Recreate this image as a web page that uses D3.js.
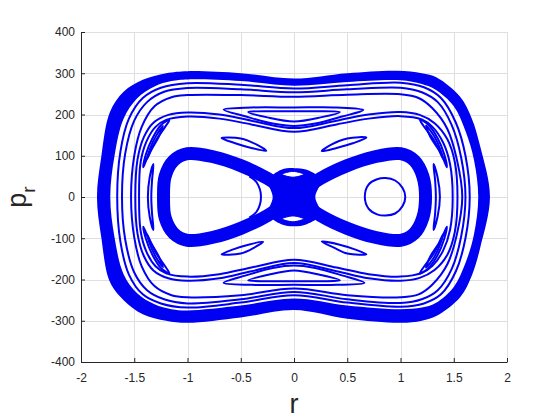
<!DOCTYPE html>
<meta charset="utf-8">
<head>
  <title>Poincare section (r, p_r)</title>
</head>

<style>
body {
  margin: 0;
  background: #fff;
  font-family: "Liberation Sans", Arial, sans-serif;
}
</style>

<body>
  <div id="content">
    <svg width="560" height="420"></svg>
  </div>

  <script src="https://cdnjs.cloudflare.com/ajax/libs/d3/7.8.5/d3.min.js"></script>

  <script>
// ticks
var xTicks = [-2, -1.5, -1, -0.5, 0, 0.5, 1, 1.5, 2];
var xTickLabels = ["-2", "-1.5", "-1", "-0.5", "0", "0.5", "1", "1.5", "2"];
var yTicks = [-400, -300, -200, -100, 0, 100, 200, 300, 400];
var yTickLabels = ["-400", "-300", "-200", "-100", "0", "100", "200", "300", "400"];

// outer chaotic band, outside and inside edge  [r, pr]
var bandOuter = [[-1.85,0],[-1.81,97],[-1.73,205],[-1.6,255],[-1.42,284],[-1.2,300],[-1.0,305],[-0.5,300],[0,287],[0.5,300],[0.97,306],[1.2,300],[1.34,290],[1.56,243],[1.67,190],[1.75,121],[1.84,0],
  [1.75,-121],[1.67,-190],[1.56,-243],[1.34,-288],[1.2,-300],[1.0,-305],[0.5,-295],[0,-274],[-0.5,-292],[-1.0,-305],[-1.2,-300],[-1.42,-284],[-1.6,-250],[-1.73,-205],[-1.81,-97]];
var bandInner = [[-1.725,0],[-1.685,100],[-1.6,190],[-1.47,240],[-1.31,268],[-1.15,281],[-1.0,285],[-0.5,281],[0,270],[0.5,279],[1.0,283],[1.2,274],[1.33,260],[1.5,220],[1.61,160],[1.69,90],[1.73,0],
  [1.69,-90],[1.61,-160],[1.5,-218],[1.33,-257],[1.2,-268],[1.0,-272],[0.5,-263],[0,-246],[-0.5,-263],[-1.0,-275],[-1.15,-272],[-1.31,-260],[-1.47,-234],[-1.6,-187],[-1.685,-98]];

// thin curves going round both wells
var loop1 = [[-1.66,0],[-1.63,110],[-1.55,190],[-1.42,240],[-1.25,265],[-1.0,276],[-0.5,272],[0,263],[0.5,271],[1.0,277],[1.22,266],[1.38,240],[1.52,180],[1.61,100],[1.65,0],
  [1.61,-100],[1.52,-180],[1.38,-236],[1.22,-258],[1.0,-266],[0.5,-256],[0,-238],[-0.5,-256],[-1.0,-268],[-1.25,-258],[-1.42,-236],[-1.55,-188],[-1.63,-108]];
var loop2 = [[-1.615,0],[-1.585,105],[-1.5,185],[-1.38,230],[-1.22,255],[-1.0,264],[-0.5,261],[0,254],[0.5,261],[1.0,265],[1.2,254],[1.35,230],[1.48,175],[1.57,95],[1.61,0],
  [1.57,-95],[1.48,-175],[1.35,-226],[1.2,-248],[1.0,-257],[0.5,-248],[0,-230],[-0.5,-248],[-1.0,-258],[-1.22,-248],[-1.38,-226],[-1.5,-183],[-1.585,-103]];
var loop3 = [[-1.53,0],[-1.5,100],[-1.43,170],[-1.31,220],[-1.15,242],[-1.0,247],[-0.5,247],[0,243],[0.5,248],[1.0,249],[1.17,240],[1.3,215],[1.44,165],[1.53,90],[1.58,0],
  [1.53,-90],[1.44,-163],[1.3,-212],[1.17,-236],[1.0,-243],[0.5,-238],[0,-222],[-0.5,-238],[-1.0,-243],[-1.15,-238],[-1.31,-216],[-1.43,-168],[-1.5,-98]];
var loop4 = [[-1.49,0],[-1.47,90],[-1.41,145],[-1.32,180],[-1.18,199],[-1.0,205],[-0.7,200],[-0.4,185],[0,167],[0.4,185],[0.7,200],[1.0,206],[1.18,199],[1.32,179],[1.44,140],[1.51,85],[1.535,0],
  [1.51,-85],[1.44,-140],[1.32,-177],[1.18,-196],[1.0,-203],[0.7,-197],[0.4,-180],[0,-160],[-0.4,-180],[-0.7,-197],[-1.0,-203],[-1.18,-197],[-1.32,-178],[-1.41,-143],[-1.47,-88]];
var loop5 = [[-1.455,0],[-1.44,85],[-1.385,135],[-1.3,170],[-1.2,187],[-1.0,195],[-0.7,190],[-0.4,176],[0,158],[0.4,176],[0.7,190],[1.0,196],[1.2,188],[1.3,170],[1.4,132],[1.465,80],[1.49,0],
  [1.465,-80],[1.4,-130],[1.3,-167],[1.2,-184],[1.0,-193],[0.7,-187],[0.4,-171],[0,-152],[-0.4,-171],[-0.7,-187],[-1.0,-193],[-1.2,-185],[-1.3,-168],[-1.385,-133],[-1.44,-83]];

// separatrix band (figure eight) and its crossing
var eightBand = [[0,0],[0.25,-45],[0.5,-76],[0.75,-97],[1.0,-105],[1.13,-88],[1.21,-50],[1.235,0],[1.21,50],[1.13,88],[1.0,105],[0.75,97],[0.5,76],[0.25,45],
  [0,0],[-0.25,-45],[-0.5,-76],[-0.75,-97],[-1.0,-105],[-1.13,-88],[-1.21,-50],[-1.225,0],[-1.21,50],[-1.13,88],[-1.0,105],[-0.75,97],[-0.5,76],[-0.25,45]];
var crossing = [[-0.24,40],[-0.12,66],[0,70],[0.12,66],[0.25,42],[0.2,0],[0.25,-42],[0.12,-66],[0,-71],[-0.12,-66],[-0.24,-42],[-0.2,0]];
var crossHoleTop = [[-0.11,55],[-0.01,62],[0.09,55],[-0.01,48]];
var crossHoleBottom = [[-0.11,-53],[-0.01,-46],[0.09,-53],[-0.01,-60]];
var leftArc = [[-0.42,50],[-0.35,35],[-0.31,0],[-0.35,-35],[-0.42,-50]];

// right well orbit
var rightCircle = [[0.665,0],[0.7,30],[0.78,43],[0.86,46],[0.95,40],[1.02,22],[1.045,0],[1.02,-22],[0.95,-40],[0.86,-45],[0.78,-42],[0.7,-28]];

// island chains
var topIslandOuter = [[-0.66,212],[-0.4,217],[0,217],[0.4,217],[0.65,211],[0.45,195],[0.2,178],[0,172],[-0.2,178],[-0.45,195]];
var topIslandInner = [[-0.43,206],[-0.2,208],[0,208],[0.2,208],[0.43,206],[0.25,193],[0,183],[-0.25,193]];
var botIslandOuter = [[-0.66,-208],[-0.4,-213],[0,-213],[0.4,-213],[0.66,-208],[0.45,-190],[0.2,-172],[0,-166],[-0.2,-172],[-0.45,-190]];
var botIslandInner = [[-0.43,-202],[-0.2,-204],[0,-204],[0.2,-204],[0.43,-202],[0.25,-189],[0,-178],[-0.25,-189]];

var tiltUL = [[-0.68,143],[-0.5,142],[-0.35,127],[-0.26,112],[-0.4,119],[-0.56,131]];
var tiltUR = [[0.68,144],[0.5,142],[0.35,127],[0.26,111],[0.4,119],[0.56,131]];
var tiltLL = [[-0.68,-139],[-0.5,-137],[-0.37,-122],[-0.29,-109],[-0.42,-115],[-0.57,-127]];
var tiltLR = [[0.68,-139],[0.5,-137],[0.37,-122],[0.26,-108],[0.42,-115],[0.57,-127]];

var fishUL = [[-1.17,187],[-1.25,174],[-1.33,142],[-1.39,104],[-1.415,72],[-1.37,100],[-1.29,140],[-1.21,170]];
var fishULin = [[-1.23,172],[-1.3,146],[-1.355,115],[-1.38,92],[-1.34,114],[-1.27,146]];
var fishLL = [[-1.17,-185],[-1.25,-172],[-1.33,-140],[-1.39,-102],[-1.415,-72],[-1.37,-98],[-1.29,-138],[-1.21,-168]];
var fishLLin = [[-1.23,-170],[-1.3,-144],[-1.355,-113],[-1.38,-90],[-1.34,-112],[-1.27,-144]];
var fishUR = [[1.18,188],[1.26,175],[1.35,142],[1.41,104],[1.435,72],[1.39,100],[1.31,140],[1.22,171]];
var fishURin = [[1.24,173],[1.32,146],[1.375,115],[1.4,92],[1.36,114],[1.28,146]];
var fishLR = [[1.18,-186],[1.26,-173],[1.35,-140],[1.41,-102],[1.435,-72],[1.39,-98],[1.31,-138],[1.22,-169]];
var fishLRin = [[1.24,-171],[1.32,-144],[1.375,-113],[1.4,-90],[1.36,-112],[1.28,-144]];

var crescentL = [[-1.32,80],[-1.355,48],[-1.372,0],[-1.355,-48],[-1.32,-80],[-1.333,-40],[-1.34,0],[-1.333,40]];
var crescentR = [[1.31,80],[1.348,48],[1.37,0],[1.348,-48],[1.31,-80],[1.325,-40],[1.332,0],[1.325,40]];

var thinLoops = [loop1, loop2, loop3, loop4, loop5, rightCircle,
  topIslandOuter, topIslandInner, botIslandOuter, botIslandInner,
  tiltUL, tiltUR, tiltLL, tiltLR,
  fishUL, fishULin, fishLL, fishLLin, fishUR, fishURin, fishLR, fishLRin,
  crescentL, crescentR];

var svg = d3.select('#content svg');
var blue = '#0000f2';

var x = d3.scaleLinear().domain([-2, 2]).range([81, 507]);
var y = d3.scaleLinear().domain([-400, 400]).range([362, 32]);

var closedLine = d3.line()
  .x(function(d) { return x(d[0]); })
  .y(function(d) { return y(d[1]); })
  .curve(d3.curveCatmullRomClosed.alpha(0.5));
var openLine = d3.line()
  .x(function(d) { return x(d[0]); })
  .y(function(d) { return y(d[1]); })
  .curve(d3.curveCatmullRom.alpha(0.5));

// grid
var grid = svg.append('g').attr('stroke', '#dfdfdf').attr('stroke-width', 1);
grid.selectAll('.gx').data(xTicks).enter().append('line')
  .attr('x1', function(d) { return Math.round(x(d)) + 0.5; })
  .attr('x2', function(d) { return Math.round(x(d)) + 0.5; })
  .attr('y1', y(400)).attr('y2', y(-400));
grid.selectAll('.gy').data(yTicks).enter().append('line')
  .attr('y1', function(d) { return Math.round(y(d)) + 0.5; })
  .attr('y2', function(d) { return Math.round(y(d)) + 0.5; })
  .attr('x1', x(-2)).attr('x2', x(2));

var plot = svg.append('g');

// outer band
plot.append('path')
  .attr('d', closedLine(bandOuter) + closedLine(bandInner))
  .attr('fill', blue)
  .attr('fill-rule', 'evenodd');

plot.selectAll('.loop').data(thinLoops).enter().append('path')
  .attr('d', closedLine)
  .attr('fill', 'none')
  .attr('stroke', blue)
  .attr('stroke-width', 2);

plot.append('path')
  .attr('d', closedLine(eightBand))
  .attr('fill', 'none')
  .attr('stroke', blue)
  .attr('stroke-width', 13)
  .attr('stroke-linejoin', 'round');

plot.append('path')
  .attr('d', closedLine(crossing))
  .attr('fill', blue);

plot.selectAll('.hole').data([crossHoleTop, crossHoleBottom]).enter().append('path')
  .attr('d', closedLine)
  .attr('fill', '#fff')
  .attr('stroke', blue)
  .attr('stroke-width', 1);

plot.append('path')
  .attr('d', openLine(leftArc))
  .attr('fill', 'none')
  .attr('stroke', blue)
  .attr('stroke-width', 2);

// axes
var axisColor = '#262626';
var xAxis = d3.axisBottom(x)
  .tickValues(xTicks)
  .tickFormat(function(d, i) { return xTickLabels[i]; })
  .tickSizeInner(-4)
  .tickSizeOuter(0)
  .tickPadding(11);
var yAxis = d3.axisLeft(y)
  .tickValues(yTicks)
  .tickFormat(function(d, i) { return yTickLabels[i]; })
  .tickSizeInner(-4)
  .tickSizeOuter(0)
  .tickPadding(6);

var gx = svg.append('g').attr('transform', 'translate(0,362)').call(xAxis);
var gy = svg.append('g').attr('transform', 'translate(81,0)').call(yAxis);
[gx, gy].forEach(function(g) {
  g.attr('font-family', '"Liberation Sans", Arial, sans-serif').attr('font-size', 12).attr('color', axisColor);
  g.selectAll('text').attr('fill', axisColor);
});

// labels
svg.append('text')
  .attr('x', 294).attr('y', 413)
  .attr('text-anchor', 'middle')
  .attr('font-size', 27)
  .attr('fill', axisColor)
  .text('r');

var yl = svg.append('text')
  .attr('transform', 'translate(26,197) rotate(-90)')
  .attr('text-anchor', 'middle')
  .attr('font-size', 27)
  .attr('fill', axisColor);
yl.append('tspan').text('p');
yl.append('tspan').attr('dy', 9).attr('font-size', 19).text('r');
  </script>
</body>
</html>
